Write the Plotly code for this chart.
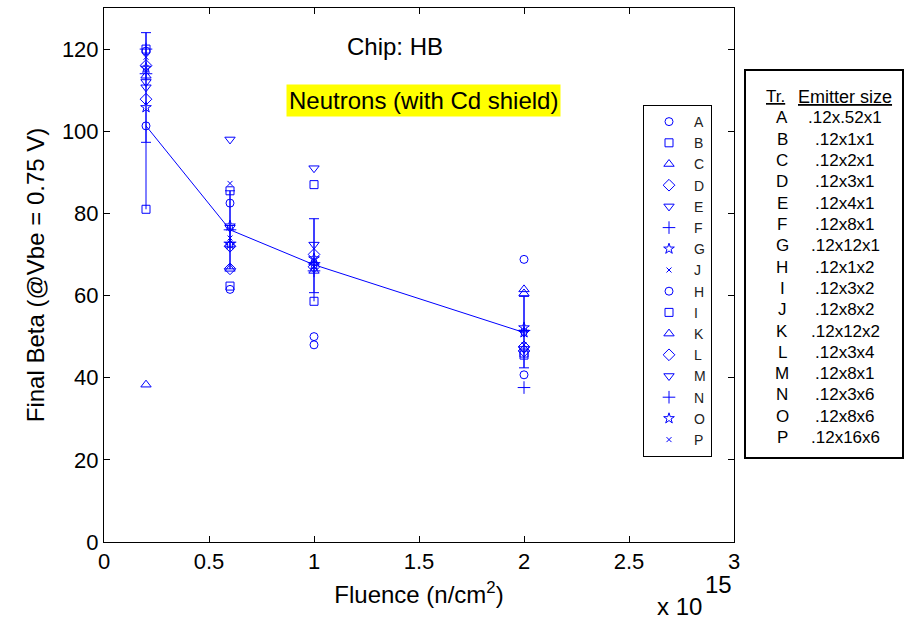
import plotly.graph_objects as go

# ---------------- data ----------------
fluence = [0.2, 0.6, 1.0, 2.0]  # x 10^15 n/cm^2

series_names = ["A", "B", "C", "D", "E", "F", "G", "J",
                "H", "I", "K", "L", "M", "N", "O", "P"]
A = [101.3, 82.5, 48.0, 68.8]
B = [120.0, 85.5, 87.0, 45.5]
C = [113.5, 72.4, 66.0, 61.5]
D = [107.8, 66.5, 67.0, 47.5]
E = [110.7, 98.0, 91.0, 51.0]
F = [114.0, 76.0, 68.0, 37.6]
G = [115.4, 77.0, 67.5, 52.2]
J = [115.5, 87.3, 68.5, 51.5]
H = [119.5, 61.5, 50.0, 40.7]
I = [81.0, 62.3, 58.6, 46.0]
K = [38.3, 66.5, 68.0, 60.5]
L = [116.0, 72.0, 70.0, 46.5]
M = [112.0, 76.5, 72.4, 47.0]
N = [120.0, 73.0, 66.0, 51.5]
O = [105.8, 72.5, 69.0, 51.0]
P = [118.0, 74.0, 67.0, 48.0]
series_values = [A, B, C, D, E, F, G, J, H, I, K, L, M, N, O, P]

mean_line = [101.3, 76.0, 67.5, 51.0]
err_hi = [124.0, 85.5, 78.7, 59.8]
err_lo = [97.3, 66.5, 60.7, 42.4]
spine_lo = [81.0, 66.5, 58.6, 42.4]

x_ticks = [0, 0.5, 1, 1.5, 2, 2.5, 3]
x_ticklabels = ["0", "0.5", "1", "1.5", "2", "2.5", "3"]
y_ticks = [0, 20, 40, 60, 80, 100, 120]

table_tr = ["A", "B", "C", "D", "E", "F", "G", "H",
            "I", "J", "K", "L", "M", "N", "O", "P"]
table_size = [".12x.52x1", ".12x1x1", ".12x2x1", ".12x3x1", ".12x4x1",
              ".12x8x1", ".12x12x1", ".12x1x2", ".12x3x2", ".12x8x2",
              ".12x12x2", ".12x3x4", ".12x8x1", ".12x3x6", ".12x8x6",
              ".12x16x6"]

# ---------------- style ----------------
BLUE = "#0000ff"
FONT = "Liberation Sans, Arial, sans-serif"
symbols = ["circle-open", "square-open", "triangle-up-open", "diamond-open",
           "triangle-down-open", "cross-thin-open", "star-open", "x-thin-open"]
sizes = [8, 8, 9, 9, 9, 9, 8, 5]

W, Hh = 904, 620
ML, MR, MT, MB = 104, 170, 8, 78
PW, PH = W - ML - MR, Hh - MT - MB


def px_x(p):
    return (p - ML) / PW


def px_y(p):
    return (Hh - MB - p) / PH


fig = go.Figure()

# vertical spread line (no caps)
fig.add_trace(go.Scatter(
    x=fluence, y=err_hi, mode="markers",
    marker=dict(size=1, opacity=0),
    error_y=dict(type="data", symmetric=False,
                 array=[0] * len(fluence),
                 arrayminus=[h - s for h, s in zip(err_hi, spine_lo)],
                 color=BLUE, thickness=1, width=0),
    showlegend=False, hoverinfo="skip"))

# error bars with caps
fig.add_trace(go.Scatter(
    x=fluence, y=[(h + l) / 2 for h, l in zip(err_hi, err_lo)], mode="markers",
    marker=dict(size=1, opacity=0),
    error_y=dict(type="data", array=[(h - l) / 2 for h, l in zip(err_hi, err_lo)],
                 color=BLUE, thickness=1, width=5),
    showlegend=False, hoverinfo="skip"))

# mean line
fig.add_trace(go.Scatter(
    x=fluence, y=mean_line, mode="lines",
    line=dict(color=BLUE, width=1), showlegend=False, hoverinfo="skip"))

for i, (name, vals) in enumerate(zip(series_names, series_values)):
    k = i % 8
    fig.add_trace(go.Scatter(
        x=fluence, y=vals, mode="markers", name=name,
        marker=dict(symbol=symbols[k], size=sizes[k], color=BLUE,
                    line=dict(color=BLUE, width=1))))

axis_common = dict(showline=True, linecolor="black", linewidth=1, mirror="ticks",
                   ticks="inside", ticklen=6, tickcolor="black", showgrid=False,
                   zeroline=False, tickfont=dict(family=FONT, size=22, color="black"))

fig.update_xaxes(range=[0, 3], tickvals=x_ticks, ticktext=x_ticklabels,
                 title=dict(text="Fluence (n/cm<sup>2</sup>)", standoff=12,
                            font=dict(family=FONT, size=24, color="black")),
                 **axis_common)
fig.update_yaxes(range=[0, 130], tickvals=y_ticks,
                 title=dict(text="Final Beta (@Vbe = 0.75 V)", standoff=10,
                            font=dict(family=FONT, size=24, color="black")),
                 **axis_common)


def ann(text, xp, yp, size, **kw):
    return dict(text=text, x=px_x(xp), y=px_y(yp), xref="paper", yref="paper",
                xanchor="center", yanchor="middle", showarrow=False,
                font=dict(family=FONT, size=size, color="black"), **kw)


annotations = [
    ann("Chip: HB", 395, 47, 24),
    ann("Neutrons (with Cd shield)", 423, 101, 24, bgcolor="#ffff00", borderpad=2),
    ann("x 10", 679, 606, 24),
    ann("15", 718, 584, 24),
    ann("<u>Tr.</u>", 775, 97, 17),
    ann("<u>Emitter size</u>", 845, 97, 18),
]
row0, step = 118, 21.3
for r, (t, s) in enumerate(zip(table_tr, table_size)):
    yy = row0 + r * step
    annotations.append(ann(t, 782, yy, 17))
    annotations.append(ann(s, 845, yy, 17))

shapes = [dict(type="rect", xref="paper", yref="paper",
               x0=px_x(745), x1=px_x(903), y0=px_y(458), y1=px_y(70),
               line=dict(color="black", width=2), fillcolor="rgba(0,0,0,0)")]

fig.update_layout(
    width=W, height=Hh,
    margin=dict(l=ML, r=MR, t=MT, b=MB),
    paper_bgcolor="white", plot_bgcolor="white",
    font=dict(family=FONT, color="black"),
    legend=dict(x=px_x(643), y=px_y(105), xanchor="left", yanchor="top",
                bgcolor="white", bordercolor="black", borderwidth=1,
                itemwidth=40,
                font=dict(family=FONT, size=14, color="#222222"),
                tracegroupgap=0),
    annotations=annotations, shapes=shapes,
)

fig.write_html("out.html")
